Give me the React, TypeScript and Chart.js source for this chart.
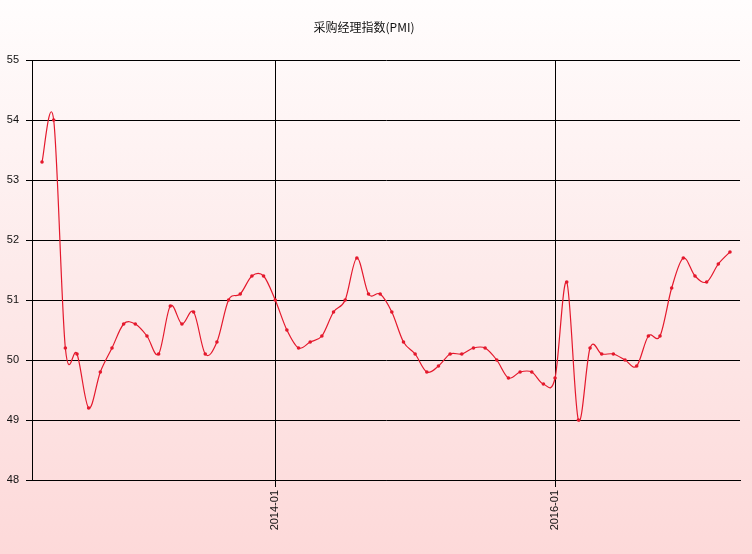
import React, { useEffect, useRef } from "react";
import { Chart, registerables } from "chart.js";

Chart.register(...registerables);

const months: string[] = [
  "2012-05", "2012-06", "2012-07", "2012-08", "2012-09", "2012-10", "2012-11", "2012-12",
  "2013-01", "2013-02", "2013-03", "2013-04", "2013-05", "2013-06", "2013-07", "2013-08",
  "2013-09", "2013-10", "2013-11", "2013-12",
  "2014-01", "2014-02", "2014-03", "2014-04", "2014-05", "2014-06", "2014-07", "2014-08",
  "2014-09", "2014-10", "2014-11", "2014-12",
  "2015-01", "2015-02", "2015-03", "2015-04", "2015-05", "2015-06", "2015-07", "2015-08",
  "2015-09", "2015-10", "2015-11", "2015-12",
  "2016-01", "2016-02", "2016-03", "2016-04", "2016-05", "2016-06", "2016-07", "2016-08",
  "2016-09", "2016-10", "2016-11", "2016-12",
  "2017-01", "2017-02", "2017-03", "2017-04",
];

const pmi: number[] = [
  53.3, 54.0, 50.2, 50.1, 49.2, 49.8, 50.2, 50.6, 50.6, 50.4,
  50.1, 50.9, 50.6, 50.8, 50.1, 50.3, 51.0, 51.1, 51.4, 51.4,
  51.0, 50.5, 50.2, 50.3, 50.4, 50.8, 51.0, 51.7, 51.1, 51.1,
  50.8, 50.3, 50.1, 49.8, 49.9, 50.1, 50.1, 50.2, 50.2, 50.0,
  49.7, 49.8, 49.8, 49.6, 49.7, 51.3, 49.0, 50.2, 50.1, 50.1,
  50.0, 49.9, 50.4, 50.4, 51.2, 51.7, 51.4, 51.3, 51.6, 51.8,
];

const xTickLabels: string[] = ["2014-01", "2016-01"];
const yTicks: number[] = [48, 49, 50, 51, 52, 53, 54, 55];
const title = "采购经理指数(PMI)";

export default function App() {
  const ref = useRef<HTMLCanvasElement | null>(null);

  useEffect(() => {
    document.body.style.margin = "0";
    const canvas = ref.current;
    if (!canvas) return;

    const titlePlugin = {
      id: "customTitle",
      afterDraw(chart: any) {
        const ctx = chart.ctx;
        ctx.save();
        ctx.font = '12px "Noto Sans CJK SC", sans-serif';
        ctx.fillStyle = "#111";
        ctx.textAlign = "center";
        ctx.textBaseline = "middle";
        ctx.fillText(title, 364, 27);
        ctx.restore();
      },
    };

    // Uniform Catmull-Rom control points (as in the reference's spline)
    const catmullPlugin = {
      id: "catmullRom",
      beforeDatasetDraw(chart: any, args: any) {
        const meta = args.meta;
        const line = meta.dataset;
        if (!line) return;
        line.updateControlPoints(chart.chartArea, meta.iScale ? meta.iScale.axis : "x");
        const pts = meta.data;
        const n = pts.length;
        for (let i = 0; i < n; i++) {
          const p = pts[i];
          const prev = pts[i - 1] || p;
          const next = pts[i + 1] || p;
          const tx = (next.x - prev.x) / 6;
          const ty = (next.y - prev.y) / 6;
          p.cp1x = p.x - tx;
          p.cp1y = p.y - ty;
          p.cp2x = p.x + tx;
          p.cp2y = p.y + ty;
        }
        line._path = undefined;
      },
    };

    const tickFont = { family: '"Liberation Sans", Arial, sans-serif', size: 11 };

    const chart = new Chart(canvas, {
      type: "line",
      data: {
        datasets: [
          {
            label: title,
            data: pmi.map((v, i) => ({ x: i + 1, y: v })),
            borderColor: "rgb(228,24,44)",
            backgroundColor: "rgb(228,24,44)",
            borderWidth: 1.2,
            pointRadius: 1.8,
            pointHoverRadius: 1.8,
            pointBorderWidth: 0,
            tension: 0.4,
            fill: false,
          },
        ],
      },
      plugins: [catmullPlugin, titlePlugin],
      options: {
        animation: false,
        responsive: false,
        maintainAspectRatio: false,
        layout: { padding: { top: 60, right: 12, left: 0, bottom: 0 } },
        plugins: {
          legend: { display: false },
          title: { display: false },
          tooltip: { enabled: false },
        },
        scales: {
          x: {
            type: "linear",
            min: 0.14,
            max: 60.86,
            afterBuildTicks: (scale: any) => {
              scale.ticks = xTickLabels.map((l) => ({ value: months.indexOf(l) + 1 }));
            },
            afterFit: (scale: any) => {
              scale.height = 74;
            },
            ticks: {
              color: "#111",
              font: tickFont,
              maxRotation: 90,
              minRotation: 90,
              padding: 3,
              autoSkip: false,
              callback: (v: any) => months[Math.round(Number(v)) - 1],
            },
            grid: {
              color: "#000",
              lineWidth: 1,
              tickLength: 7,
              drawOnChartArea: true,
            },
            border: { display: true, color: "#000", width: 1 },
          },
          y: {
            type: "linear",
            min: 48,
            max: 55,
            afterBuildTicks: (scale: any) => {
              scale.ticks = yTicks.map((v) => ({ value: v }));
            },
            afterFit: (scale: any) => {
              scale.width = 32;
            },
            ticks: {
              color: "#111",
              font: tickFont,
              padding: 7,
              callback: (v: any) => String(v),
            },
            grid: {
              color: "#000",
              lineWidth: 1,
              tickLength: 6,
            },
            border: { display: true, color: "#000", width: 1 },
          },
        },
      },
    });

    return () => chart.destroy();
  }, []);

  return (
    <div
      style={{
        position: "absolute",
        left: 0,
        top: 0,
        width: 752,
        height: 554,
        background: "linear-gradient(to bottom, #fffdfd 0%, #fdeaea 50%, #fdd9d9 100%)",
      }}
    >
      <canvas ref={ref} width={752} height={554} style={{ display: "block" }} />
    </div>
  );
}
